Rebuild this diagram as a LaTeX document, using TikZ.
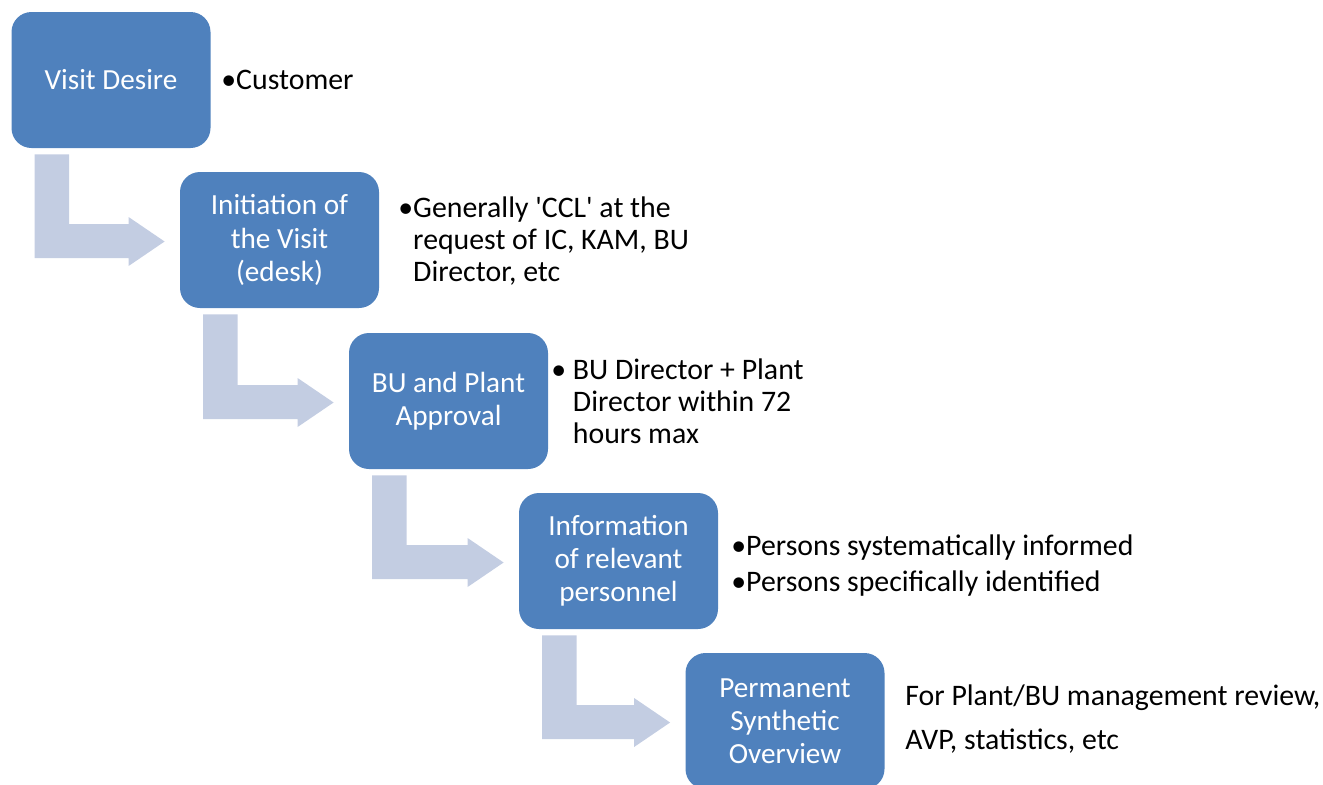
\documentclass[tikz,border=0pt]{standalone}
\usepackage{fontspec}
\newfontfamily\stepfont{Carlito}
\usetikzlibrary{calc}
\definecolor{stepblue}{HTML}{4F81BD}
\definecolor{bendgrey}{RGB}{195,205,226}
\tikzset{
  stepbox/.style={rectangle, rounded corners=10pt, fill=stepblue, text=white,
    minimum width=99.5pt, minimum height=68pt, inner sep=2pt, align=center},
  note/.style={anchor=west, inner sep=0pt, align=left,
    font=\stepfont\fontsize{14.9}{16}\selectfont},
}
% bent block arrow from below one box to the left of the next
\newcommand{\bendarrow}[2]{%
  \fill[bendgrey] ($(#1.south west)+(23.5,6)$) -- ($(#1.south west)+(58,6)$)
    |- ($(#2.west)+(-51,-16)$) -- ($(#2.west)+(-51,-23)$) -- ($(#2.west)+(-15,1.5)$)
    -- ($(#2.west)+(-51,26)$) -- ($(#2.west)+(-51,18)$)
    -| ($(#1.south west)+(23.5,6)$) -- cycle;}
\begin{document}
\begin{tikzpicture}[x=0.5pt, y=-0.5pt, font=\stepfont\fontsize{14.6}{16.6}\selectfont]
    \useasboundingbox (0,0) rectangle (1323,784);
    \clip (0,0) rectangle (1323,784);

    % Boxes
    \node[stepbox] (desire) at (111,80) {Visit Desire};
    \node[stepbox] (initiation) at (279.5,240) {Initiation of\\the Visit\\(edesk)};
    \node[stepbox] (approval) at (448.5,401) {BU and Plant\\Approval};
    \node[stepbox] (information) at (618.5,561) {Information\\of relevant\\personnel};
    \node[stepbox] (overview) at (785,721) {Permanent\\Synthetic\\Overview};

    % Arrows
    \bendarrow{desire}{initiation}
    \bendarrow{initiation}{approval}
    \bendarrow{approval}{information}
    \bendarrow{information}{overview}

    % Notes
    \node[note] (customer) at (221,80) {•Customer};
    \node[note] (ccl) at (398,241) {•Generally 'CCL' at the\\\hphantom{•}request of IC, KAM, BU\\\hphantom{•}Director, etc};
    \node[note] (hours) at (551,401) {• BU Director + Plant\\\hphantom{• }Director within 72\\\hphantom{• }hours max};
    \node[note] (persons) at (731,566) {•Persons systematically informed\\[2pt]•Persons specifically identified};
    \node[note] (review) at (905,719) {For Plant/BU management review,\\[6pt]AVP, statistics, etc};
\end{tikzpicture}
\end{document}
